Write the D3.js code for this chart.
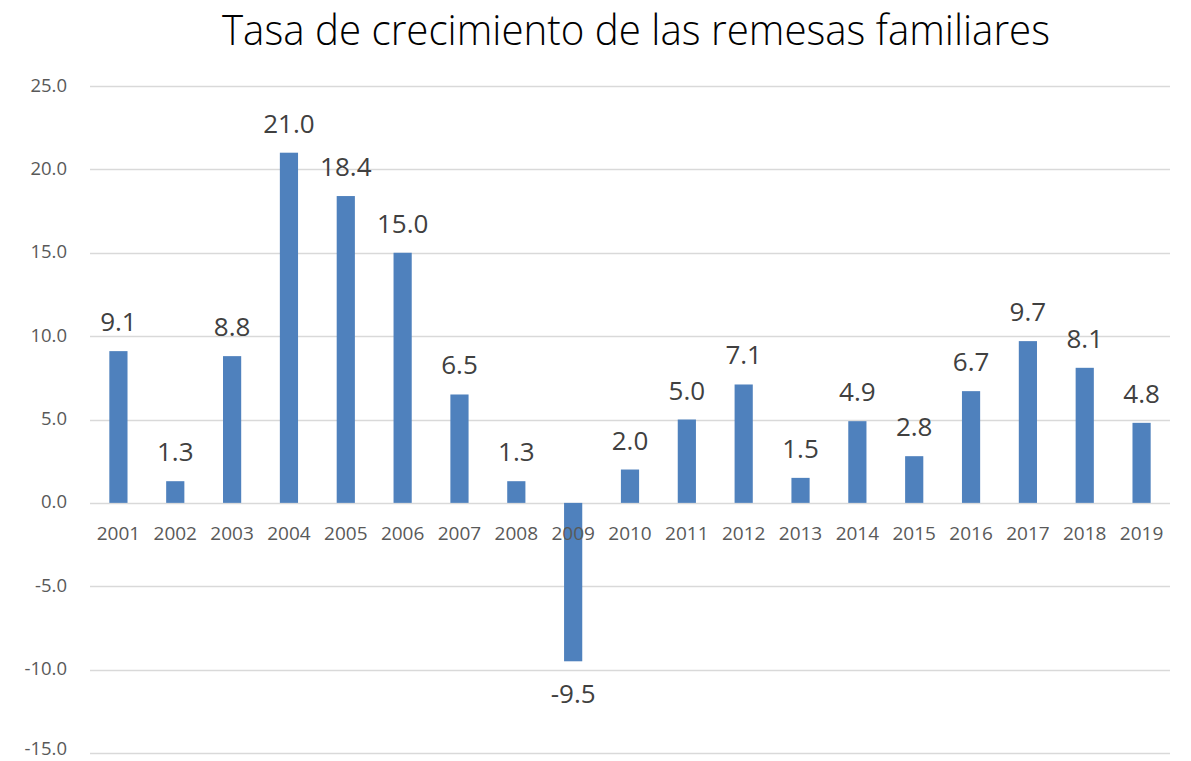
<!DOCTYPE html>
<html>
<head>
<meta charset="utf-8">
<script src="https://cdn.jsdelivr.net/npm/d3@7"></script>
<style>
  body { margin: 0; background: #fff; }
  text { font-family: "Open Sans", "Noto Sans", sans-serif; }
</style>
</head>
<body>
<div id="chart"></div>
<script>
var years = ["2001","2002","2003","2004","2005","2006","2007","2008","2009","2010",
  "2011","2012","2013","2014","2015","2016","2017","2018","2019"]
var growth = [9.1, 1.3, 8.8, 21.0, 18.4, 15.0, 6.5, 1.3, -9.5, 2.0,
  5.0, 7.1, 1.5, 4.9, 2.8, 6.7, 9.7, 8.1, 4.8]
var yTicks = [25, 20, 15, 10, 5, 0, -5, -10, -15]
var title = "Tasa de crecimiento de las remesas familiares"

var width = 1191, height = 761
var margin = {top: 86, right: 21, bottom: 8, left: 90}

var svg = d3.select("#chart").append("svg")
  .attr("width", width)
  .attr("height", height)

var x = d3.scaleBand()
  .domain(years)
  .range([margin.left, width - margin.right])
  .paddingInner(0.68)
  .paddingOuter(0.34)

var y = d3.scaleLinear()
  .domain([-15, 25])
  .range([753, 86])

// gridlines
svg.append("g")
  .selectAll("line")
  .data(yTicks)
  .enter().append("line")
  .attr("x1", margin.left)
  .attr("x2", width - margin.right)
  .attr("y1", d => Math.round(y(d)) + 0.5)
  .attr("y2", d => Math.round(y(d)) + 0.5)
  .attr("stroke", "#d9d9d9")
  .attr("stroke-width", 1.3)

// y tick labels (bottom one kept inside the picture)
svg.append("g")
  .selectAll("text")
  .data(yTicks)
  .enter().append("text")
  .attr("x", 67)
  .attr("y", d => Math.min(y(d), height - 12))
  .attr("dy", "0.3em")
  .attr("text-anchor", "end")
  .attr("fill", "#595959")
  .style("font-size", "18.5px")
  .text(d => d.toFixed(1))

// bars
svg.append("g")
  .selectAll("rect")
  .data(growth)
  .enter().append("rect")
  .attr("x", (d, i) => x(years[i]))
  .attr("width", x.bandwidth())
  .attr("y", d => y(Math.max(0, d)))
  .attr("height", d => Math.abs(y(d) - y(0)))
  .attr("fill", "#4f81bd")

// category labels
svg.append("g")
  .selectAll("text")
  .data(years)
  .enter().append("text")
  .attr("x", d => x(d) + x.bandwidth() / 2)
  .attr("y", y(0) + 37)
  .attr("text-anchor", "middle")
  .attr("fill", "#595959")
  .style("font-size", "19px")
  .text(d => d)

// data labels
svg.append("g")
  .selectAll("text")
  .data(growth)
  .enter().append("text")
  .attr("x", (d, i) => x(years[i]) + x.bandwidth() / 2)
  .attr("y", d => d >= 0 ? y(d) - 20 : y(d) + 42)
  .attr("text-anchor", "middle")
  .attr("fill", "#404040")
  .style("font-size", "26px")
  .text(d => d.toFixed(1))

// title
svg.append("text")
  .attr("x", 636)
  .attr("y", 45)
  .attr("text-anchor", "middle")
  .attr("fill", "#000")
  .attr("textLength", 828)
  .attr("lengthAdjust", "spacingAndGlyphs")
  .style("font-size", "43px")
  .style("font-weight", 300)
  .text(title)
</script>
</body>
</html>
